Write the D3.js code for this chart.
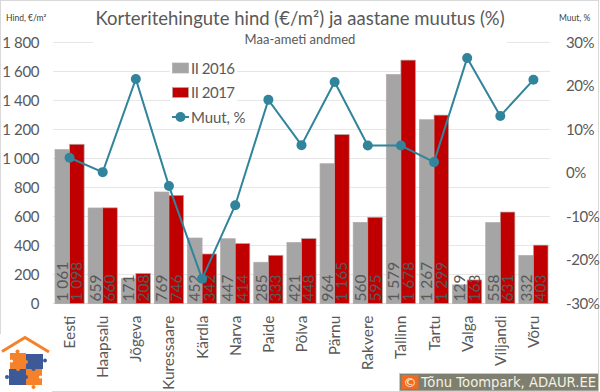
<!DOCTYPE html>
<html>
<head>
<meta charset="utf-8">
<script src="https://cdn.jsdelivr.net/npm/d3@7"></script>
<style>
html, body { margin: 0; padding: 0; background: #fff; }
svg { display: block; font-family: Lato, "Open Sans", sans-serif; }
</style>
</head>
<body>
<script>
var categories = ['Eesti', 'Haapsalu', 'Jõgeva', 'Kuressaare', 'Kärdla', 'Narva', 'Paide', 'Põlva', 'Pärnu', 'Rakvere', 'Tallinn', 'Tartu', 'Valga', 'Viljandi', 'Võru'];
var price2016 = [1061, 659, 171, 769, 452, 447, 285, 421, 964, 560, 1579, 1267, 129, 558, 332];
var price2017 = [1098, 660, 208, 746, 342, 414, 333, 448, 1165, 595, 1678, 1299, 163, 631, 403];
var change = [3.5, 0.2, 21.6, -3.0, -24.3, -7.4, 16.8, 6.4, 20.9, 6.3, 6.3, 2.5, 26.4, 13.1, 21.4];
var priceTicks = [0, 200, 400, 600, 800, 1000, 1200, 1400, 1600, 1800];
var changeTicks = [-30, -20, -10, 0, 10, 20, 30];
var legendLabels = ['II 2016', 'II 2017', 'Muut, %'];

var width = 600;
var height = 392;
var plotLeft = 53;
var plotRight = 550;
var plotTop = 42.4;
var plotBottom = 303.6;
var grey = '#a5a5a5';
var red = '#c00000';
var teal = '#31849b';
var textColor = '#595959';
var logoOrange = '#f5822a';
var logoBlue = '#3d5a98';

var svg = d3.select('body').append('svg')
	.attr('width', width)
	.attr('height', height);

svg.append('rect')
	.attr('x', 0.5).attr('y', 0.5)
	.attr('width', width - 2).attr('height', height - 1)
	.attr('fill', '#fff')
	.attr('stroke', '#d9d9d9');

var xScale = d3.scaleBand()
	.domain(categories)
	.range([plotLeft, plotRight])
	.paddingInner(0.12)
	.paddingOuter(0.06);

var barScale = d3.scaleBand()
	.domain(['a', 'b'])
	.range([0, xScale.bandwidth()]);

var yScale = d3.scaleLinear().domain([0, 1800]).range([plotBottom, plotTop]);
var changeScale = d3.scaleLinear().domain([-30, 30]).range([plotBottom, plotTop]);

var thousands = d3.formatLocale({decimal: ',', thousands: ' ', grouping: [3], currency: ['', '']}).format(',');

// gridlines
svg.append('g').selectAll('line')
	.data(priceTicks).enter()
	.append('line')
	.attr('x1', plotLeft).attr('x2', plotRight)
	.attr('y1', function(d) { return yScale(d); })
	.attr('y2', function(d) { return yScale(d); })
	.attr('stroke', function(d) { return d === 0 ? '#d9d9d9' : '#e6e6e6'; })
	.attr('stroke-width', 1);

// title box and legend box hide the gridlines behind them
svg.append('rect').attr('x', 93).attr('y', 8).attr('width', 414).attr('height', 40).attr('fill', '#fff');
svg.append('rect').attr('x', 170).attr('y', 58).attr('width', 67).attr('height', 66).attr('fill', '#fff');

var leftAxis = d3.axisLeft(yScale).tickValues(priceTicks).tickSize(0).tickPadding(0).tickFormat(thousands);
var rightAxis = d3.axisRight(changeScale).tickValues(changeTicks).tickSize(0).tickPadding(0)
	.tickFormat(function(d) { return d + '%'; });

svg.append('g').attr('class', 'yAxis').attr('transform', 'translate(39,0)').call(leftAxis);
svg.append('g').attr('class', 'changeAxis').attr('transform', 'translate(566,0)').call(rightAxis);
svg.selectAll('.yAxis .domain, .changeAxis .domain').remove();
svg.selectAll('.yAxis text, .changeAxis text')
	.attr('font-family', 'Lato, sans-serif')
	.attr('font-size', 15)
	.attr('letter-spacing', -0.4)
	.attr('fill', textColor);

var groups = svg.append('g').selectAll('g')
	.data(categories).enter()
	.append('g')
	.attr('transform', function(d) { return 'translate(' + xScale(d) + ',0)'; });

function drawBars(values, key, color) {
	groups.append('rect')
		.attr('x', barScale(key))
		.attr('width', barScale.bandwidth())
		.attr('y', function(d, i) { return yScale(values[i]); })
		.attr('height', function(d, i) { return plotBottom - yScale(values[i]); })
		.attr('fill', color)
		.attr('stroke', '#b3a9a9')
		.attr('stroke-width', 0.7);
}
drawBars(price2016, 'a', grey);
drawBars(price2017, 'b', red);

function drawLabels(values, key) {
	groups.append('text')
		.text(function(d, i) { return thousands(values[i]); })
		.attr('transform', 'translate(' + (barScale(key) + barScale.bandwidth() / 2 + 5.5) + ',' + (plotBottom - 2) + ') rotate(-90)')
		.attr('font-size', 15.5)
		.attr('fill', textColor);
}
drawLabels(price2016, 'a');
drawLabels(price2017, 'b');

// category labels
svg.append('g').selectAll('text')
	.data(categories).enter()
	.append('text')
	.text(function(d) { return d; })
	.attr('transform', function(d) {
		return 'translate(' + (xScale(d) + xScale.bandwidth() / 2 + 5.5) + ',' + (plotBottom + 12) + ') rotate(-90)';
	})
	.attr('text-anchor', 'end')
	.attr('font-size', 15.5)
	.attr('fill', textColor);

// change line
var changeLine = d3.line()
	.x(function(d, i) { return xScale(categories[i]) + xScale.bandwidth() / 2; })
	.y(function(d) { return changeScale(d); });

svg.append('path')
	.attr('d', changeLine(change))
	.attr('fill', 'none')
	.attr('stroke', teal)
	.attr('stroke-width', 2);

svg.append('g').selectAll('circle')
	.data(change).enter()
	.append('circle')
	.attr('r', 5)
	.attr('cx', function(d, i) { return xScale(categories[i]) + xScale.bandwidth() / 2; })
	.attr('cy', function(d) { return changeScale(d); })
	.attr('fill', teal);

// legend
var legendY = d3.scalePoint().domain(legendLabels).range([68, 117]);
var legend = svg.append('g');
legendLabels.forEach(function(label, i) {
	var y = legendY(label);
	if (i < 2) {
		legend.append('rect')
			.attr('x', 172.5).attr('y', y - 5)
			.attr('width', 16).attr('height', 10)
			.attr('fill', i === 0 ? grey : red)
			.attr('stroke', '#b3a9a9')
			.attr('stroke-width', 0.7);
	} else {
		legend.append('line')
			.attr('x1', 172).attr('x2', 189)
			.attr('y1', y).attr('y2', y)
			.attr('stroke', teal).attr('stroke-width', 2);
		legend.append('circle')
			.attr('cx', 180.5).attr('cy', y).attr('r', 5).attr('fill', teal);
	}
	legend.append('text')
		.text(label)
		.attr('x', 191).attr('y', y + 5.5)
		.attr('font-size', 15)
		.attr('letter-spacing', i < 2 ? -0.5 : -0.1)
		.attr('fill', textColor);
});

// titles
svg.append('text')
	.text('Korteritehingute hind (€/m²) ja aastane muutus (%)')
	.attr('x', 300).attr('y', 25)
	.attr('text-anchor', 'middle')
	.attr('font-size', 18.5)
	.attr('fill', textColor);

svg.append('text')
	.text('Maa-ameti andmed')
	.attr('x', 300).attr('y', 44)
	.attr('text-anchor', 'middle')
	.attr('font-size', 13)
	.attr('fill', textColor);

svg.append('text').text('Hind, €/m²')
	.attr('x', 6).attr('y', 21)
	.attr('font-size', 8.5).attr('fill', '#404040');

svg.append('text').text('Muut, %')
	.attr('x', 559).attr('y', 21)
	.attr('font-size', 8.5).attr('fill', '#404040');

// logo
var logo = svg.append('g');
logo.append('rect').attr('x', 0).attr('y', 334).attr('width', 52).attr('height', 58).attr('fill', '#fff');
logo.append('path')
	.attr('d', 'M2,351.5 L25,337.5 L49,352')
	.attr('fill', 'none').attr('stroke', logoOrange).attr('stroke-width', 3);
logo.append('rect').attr('x', 10).attr('y', 353).attr('width', 16).attr('height', 16).attr('fill', logoOrange);
logo.append('rect').attr('x', 26).attr('y', 354).attr('width', 17).attr('height', 15).attr('fill', logoBlue);
logo.append('rect').attr('x', 9).attr('y', 369).attr('width', 17).attr('height', 16).attr('fill', logoBlue);
logo.append('rect').attr('x', 26).attr('y', 369).attr('width', 16).attr('height', 16).attr('fill', logoOrange);
logo.append('circle').attr('cx', 17.5).attr('cy', 351.5).attr('r', 2).attr('fill', logoOrange);
logo.append('circle').attr('cx', 45).attr('cy', 360.5).attr('r', 2).attr('fill', logoBlue);
logo.append('circle').attr('cx', 7).attr('cy', 377).attr('r', 2).attr('fill', logoBlue);
logo.append('circle').attr('cx', 33.5).attr('cy', 387).attr('r', 2).attr('fill', logoOrange);
logo.append('circle').attr('cx', 26).attr('cy', 362).attr('r', 2).attr('fill', logoOrange);
logo.append('circle').attr('cx', 33.5).attr('cy', 369).attr('r', 2).attr('fill', logoBlue);
logo.append('circle').attr('cx', 18).attr('cy', 369).attr('r', 2).attr('fill', logoOrange);
logo.append('circle').attr('cx', 26).attr('cy', 377).attr('r', 2).attr('fill', logoBlue);
logo.append('circle').attr('cx', 11.5).attr('cy', 361).attr('r', 1.6).attr('fill', '#fff');
logo.append('circle').attr('cx', 40.5).attr('cy', 377).attr('r', 1.6).attr('fill', '#fff');

// copyright box
svg.append('rect').attr('x', 399.5).attr('y', 373.5).attr('width', 199).attr('height', 17.5)
	.attr('fill', '#7f7f6f').attr('stroke', '#c9c9c1').attr('stroke-width', 1);
svg.append('rect').attr('x', 401.5).attr('y', 375).attr('width', 17).attr('height', 14).attr('fill', '#f26a21');
svg.append('text').text('©')
	.attr('x', 410).attr('y', 386.5)
	.attr('text-anchor', 'middle')
	.attr('font-family', 'DejaVu Sans').attr('font-size', 13).attr('fill', '#fff');
svg.append('text').text('Tõnu Toompark, ADAUR.EE')
	.attr('x', 421).attr('y', 387)
	.attr('font-family', 'DejaVu Sans').attr('font-size', 13.2).attr('fill', '#f2f2e6');
</script>
</body>
</html>
